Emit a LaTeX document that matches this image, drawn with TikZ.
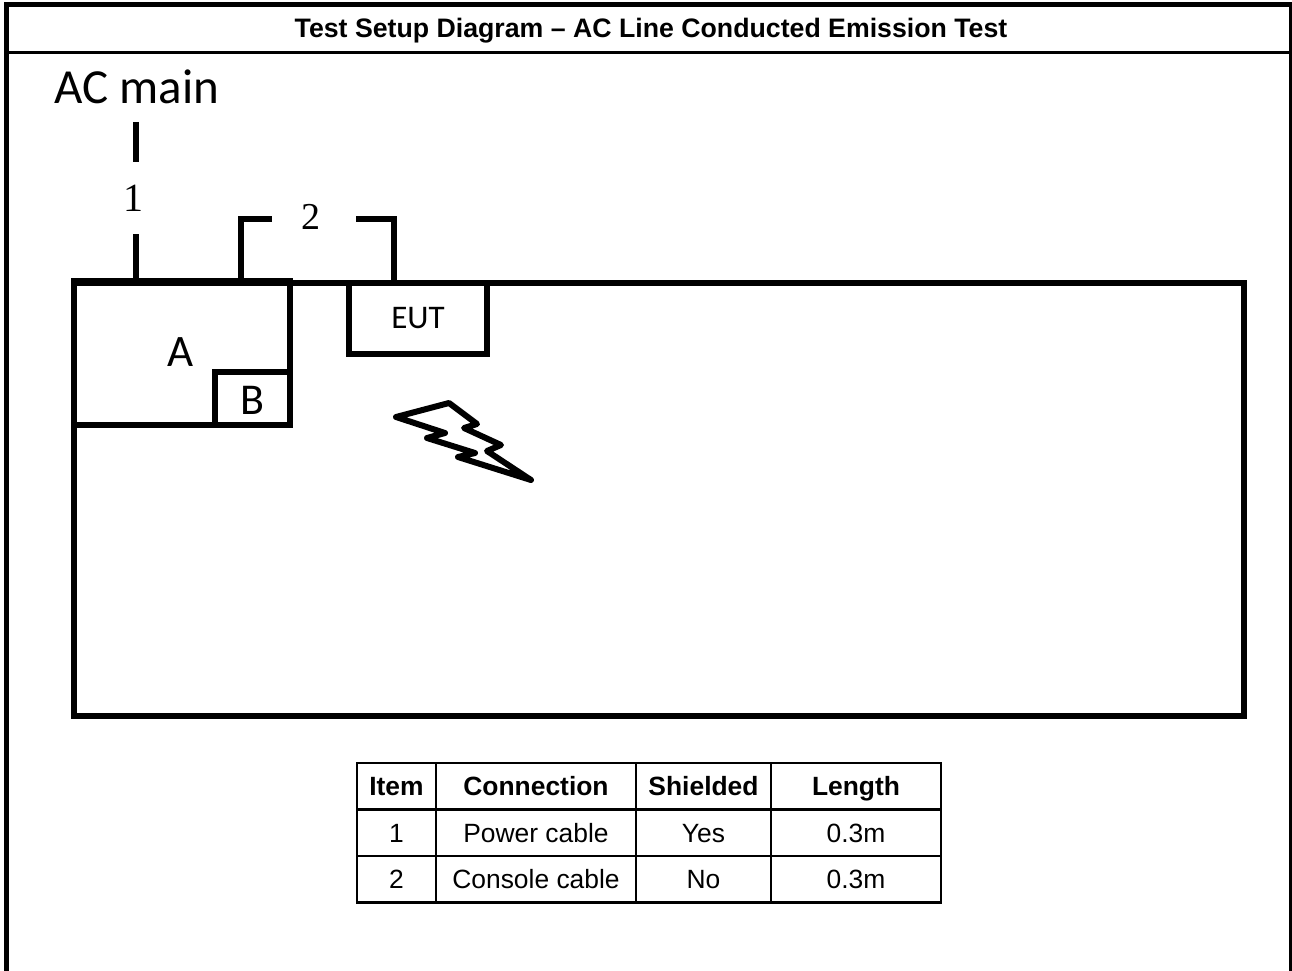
\documentclass[tikz,border=0pt]{standalone}
\usepackage{fontspec}
\setmainfont{Liberation Sans}
\newfontfamily\sketchfont{Carlito}
\newfontfamily\numfont{Liberation Serif}
\usetikzlibrary{positioning}
\tikzset{
  frameline/.style={draw=black, line width=5pt},
  wall/.style={draw=black, line width=6.5pt, line join=miter, outer sep=0pt, inner sep=0pt, anchor=north west},
  cable/.style={draw=black, line width=6pt, line cap=butt},
  titletext/.style={font=\bfseries\fontsize{26.7}{30}\selectfont},
  cell/.style={draw=black, line width=2.5pt, outer sep=0pt, inner sep=0pt, minimum height=46.5pt,
    text height=22pt, text depth=3pt, font=\fontsize{26.4}{30}\selectfont},
  headcell/.style={cell, font=\bfseries\fontsize{26.4}{30}\selectfont},
  itemcol/.style={minimum width=79pt},
  conncol/.style={minimum width=200pt},
  shieldcol/.style={minimum width=135pt},
  lengthcol/.style={minimum width=170pt}
}
\begin{document}
\begin{tikzpicture}[x=1pt, y=-1pt]
  \useasboundingbox (0,0) rectangle (1292,971);
  % page frame
  \draw[frameline] (6.5,971) -- (6.5,4.5) -- (1292,4.5);
  \coordinate (ruleleft) at (6,53);
  \coordinate (ruleright) at (1291,53);
  \draw[frameline, line width=3pt] (1290.5,4.5) -- (1290.5,971);
  \draw[frameline, line width=3pt] (ruleleft) -- (ruleright);
  \node[titletext] (title) at (651,31) {Test Setup Diagram -- AC Line Conducted Emission Test};
  % set-up
  \node[wall, minimum width=1170pt, minimum height=433pt] (table) at (74,283) {};
  \node[wall, minimum width=216pt, minimum height=144pt] (boxa) at (74,281) {};
  \node[wall, minimum width=75pt, minimum height=53pt] (boxb) at (215,372) {};
  \node[wall, minimum width=138pt, minimum height=71pt] (eut) at (349,283) {};
  \node[font=\sketchfont\fontsize{49}{54}\selectfont] (acmain) at (137,87) {AC main};
  \node[font=\sketchfont\fontsize{45}{50}\selectfont] (labela) at (181,352) {A};
  \node[font=\sketchfont\fontsize{44}{50}\selectfont] at (boxb.center) [yshift=-2pt] (labelb) {B};
  \node[font=\sketchfont\fontsize{33}{38}\selectfont] at (eut.center) [yshift=0pt] (labeleut) {EUT};
  \node[font=\numfont\fontsize{40}{44}\selectfont, inner sep=0pt, minimum height=71pt] (numone) at (133,198) {\raisebox{-2pt}{1}};
  \node[font=\numfont\fontsize{38}{42}\selectfont, inner sep=0pt, minimum width=84pt] (numtwo) at (314,219) {\raisebox{4pt}{2\hspace{6pt}}};
  % cables
  \coordinate (mainsend) at (136,122);
  \coordinate (mainsport) at (136,281);
  \coordinate (aport) at (241,281);
  \coordinate (eutport) at (394,283);
  \draw[cable] (mainsend) -- (mainsend |- numone.north);
  \draw[cable] (mainsport) -- (mainsport |- numone.south);
  \draw[cable] (aport) |- (numtwo.west);
  \draw[cable] (eutport) |- (numtwo.east);
  % spark
  \draw[line width=6pt, line join=round] (396,417) -- (449,403) -- (477,424) -- (464,428) -- (501,445)
    -- (487,451) -- (531,480) -- (458,457) -- (475,453) -- (427,438) -- (445,433) -- cycle;
  % cable list
  \node[headcell, itemcol, anchor=north west] (hitem) at (357,763) {Item};
  \node[headcell, conncol, right=0pt of hitem] (hconn) {Connection};
  \node[headcell, shieldcol, right=0pt of hconn] (hshield) {Shielded};
  \node[headcell, lengthcol, right=0pt of hshield] (hlength) {Length};
  \node[cell, itemcol, below=0pt of hitem] (itemone) {1};
  \node[cell, conncol, right=0pt of itemone] (connone) {Power cable};
  \node[cell, shieldcol, right=0pt of connone] (shieldone) {Yes};
  \node[cell, lengthcol, right=0pt of shieldone] (lengthone) {0.3m};
  \node[cell, itemcol, below=0pt of itemone] (itemtwo) {2};
  \node[cell, conncol, right=0pt of itemtwo] (conntwo) {Console cable};
  \node[cell, shieldcol, right=0pt of conntwo] (shieldtwo) {No};
  \node[cell, lengthcol, right=0pt of shieldtwo] (lengthtwo) {0.3m};
\end{tikzpicture}
\end{document}
